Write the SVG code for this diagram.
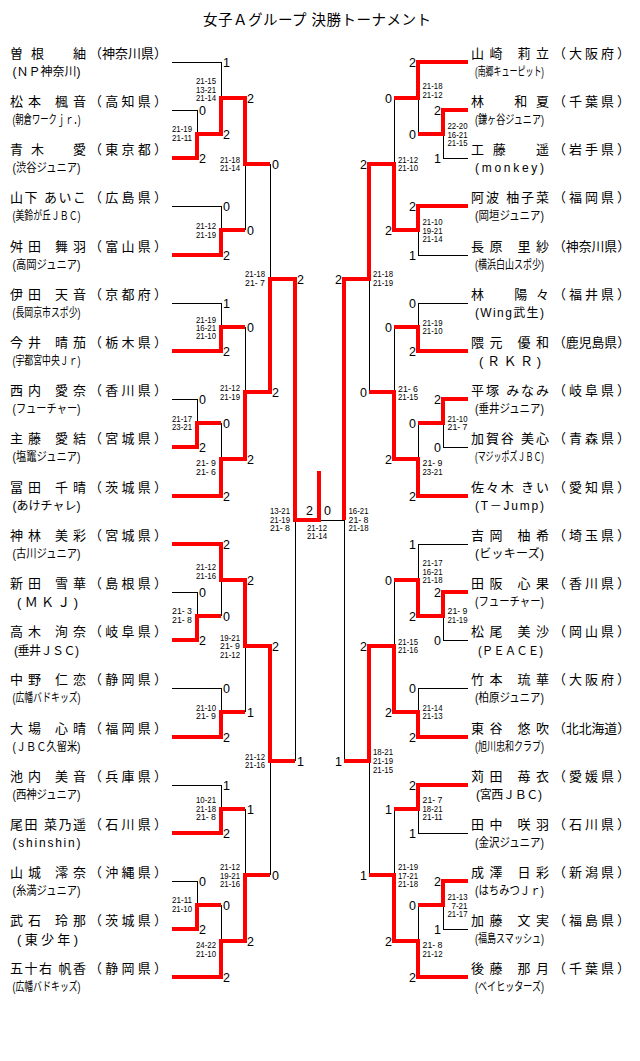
<svg xmlns="http://www.w3.org/2000/svg" width="640" height="1061" viewBox="0 0 640 1061">
<style>
text{font-family:"Liberation Sans","Noto Sans CJK JP",sans-serif;fill:#000}
.t{font-size:14.5px}
.n{font-size:13px}
.a{font-size:12px}
.b{font-size:13px}
.s{font-family:"Liberation Sans",sans-serif;font-size:9px}
.g{font-family:"Liberation Sans",sans-serif;font-size:12.5px}
.e{text-anchor:end}
.k{stroke:#000;stroke-width:1;fill:none}
.r{stroke:#f00;stroke-width:4;fill:none;stroke-linejoin:miter}
</style>
<rect width="640" height="1061" fill="#fff"/>
<g id="title"><text class="t" x="203" y="24.5" textLength="228" lengthAdjust="spacing">女子Ａグループ 決勝トーナメント</text></g>

<g id="L00"><text class="n" x="10" y="57.5" textLength="76" lengthAdjust="spacing">曽根　紬</text><text class="n" x="89" y="57.5" textLength="78" lengthAdjust="spacing">（神奈川県）</text><text class="a" x="12.5" y="76" textLength="68" lengthAdjust="spacing">(ＮＰ神奈川)</text></g>
<g id="L01"><text class="n" x="10" y="105.5" textLength="76" lengthAdjust="spacing">松本 楓音</text><text class="n" x="89" y="105.5" textLength="78" lengthAdjust="spacing">（高知県）</text><text class="a" x="12.5" y="124" textLength="68" lengthAdjust="spacingAndGlyphs">(朝倉ワークｊｒ．)</text></g>
<g id="L02"><text class="n" x="10" y="153.5" textLength="76" lengthAdjust="spacing">青木　愛</text><text class="n" x="89" y="153.5" textLength="78" lengthAdjust="spacing">（東京都）</text><text class="a" x="12.5" y="172" textLength="68" lengthAdjust="spacingAndGlyphs">(渋谷ジュニア)</text></g>
<g id="L03"><text class="n" x="10" y="201.5" textLength="76" lengthAdjust="spacing">山下 あいこ</text><text class="n" x="89" y="201.5" textLength="78" lengthAdjust="spacing">（広島県）</text><text class="a" x="12.5" y="220" textLength="68" lengthAdjust="spacingAndGlyphs">(美鈴が丘ＪＢＣ)</text></g>
<g id="L04"><text class="n" x="10" y="250.5" textLength="76" lengthAdjust="spacing">舛田 舞羽</text><text class="n" x="89" y="250.5" textLength="78" lengthAdjust="spacing">（富山県）</text><text class="a" x="12.5" y="269" textLength="68" lengthAdjust="spacingAndGlyphs">(高岡ジュニア)</text></g>
<g id="L05"><text class="n" x="10" y="298.5" textLength="76" lengthAdjust="spacing">伊田 天音</text><text class="n" x="89" y="298.5" textLength="78" lengthAdjust="spacing">（京都府）</text><text class="a" x="12.5" y="317" textLength="68" lengthAdjust="spacingAndGlyphs">(長岡京市スポ少)</text></g>
<g id="L06"><text class="n" x="10" y="346.5" textLength="76" lengthAdjust="spacing">今井 晴茄</text><text class="n" x="89" y="346.5" textLength="78" lengthAdjust="spacing">（栃木県）</text><text class="a" x="12.5" y="365" textLength="68" lengthAdjust="spacingAndGlyphs">(宇都宮中央Ｊｒ)</text></g>
<g id="L07"><text class="n" x="10" y="394.5" textLength="76" lengthAdjust="spacing">西内 愛奈</text><text class="n" x="89" y="394.5" textLength="78" lengthAdjust="spacing">（香川県）</text><text class="a" x="12.5" y="413" textLength="68" lengthAdjust="spacingAndGlyphs">(フューチャー)</text></g>
<g id="L08"><text class="n" x="10" y="442.5" textLength="76" lengthAdjust="spacing">主藤 愛結</text><text class="n" x="89" y="442.5" textLength="78" lengthAdjust="spacing">（宮城県）</text><text class="a" x="12.5" y="461" textLength="68" lengthAdjust="spacingAndGlyphs">(塩竈ジュニア)</text></g>
<g id="L09"><text class="n" x="10" y="491.5" textLength="76" lengthAdjust="spacing">冨田 千晴</text><text class="n" x="89" y="491.5" textLength="78" lengthAdjust="spacing">（茨城県）</text><text class="a" x="12.5" y="510" textLength="68" lengthAdjust="spacing">(あけチャレ)</text></g>
<g id="L10"><text class="n" x="10" y="539.5" textLength="76" lengthAdjust="spacing">神林 美彩</text><text class="n" x="89" y="539.5" textLength="78" lengthAdjust="spacing">（宮城県）</text><text class="a" x="12.5" y="558" textLength="68" lengthAdjust="spacingAndGlyphs">(古川ジュニア)</text></g>
<g id="L11"><text class="n" x="10" y="587.5" textLength="76" lengthAdjust="spacing">新田 雪華</text><text class="n" x="89" y="587.5" textLength="78" lengthAdjust="spacing">（島根県）</text><text class="b" x="17" y="606.5" textLength="61" lengthAdjust="spacing">(ＭＫＪ)</text></g>
<g id="L12"><text class="n" x="10" y="635.5" textLength="76" lengthAdjust="spacing">高木 洵奈</text><text class="n" x="89" y="635.5" textLength="78" lengthAdjust="spacing">（岐阜県）</text><text class="a" x="14" y="654.5" textLength="65" lengthAdjust="spacing">(垂井ＪＳＣ)</text></g>
<g id="L13"><text class="n" x="10" y="683.5" textLength="76" lengthAdjust="spacing">中野 仁恋</text><text class="n" x="89" y="683.5" textLength="78" lengthAdjust="spacing">（静岡県）</text><text class="a" x="12.5" y="702" textLength="68" lengthAdjust="spacingAndGlyphs">(広幡バドキッズ)</text></g>
<g id="L14"><text class="n" x="10" y="732.5" textLength="76" lengthAdjust="spacing">大場 心晴</text><text class="n" x="89" y="732.5" textLength="78" lengthAdjust="spacing">（福岡県）</text><text class="a" x="12.5" y="751" textLength="68" lengthAdjust="spacingAndGlyphs">(ＪＢＣ久留米)</text></g>
<g id="L15"><text class="n" x="10" y="780.5" textLength="76" lengthAdjust="spacing">池内 美音</text><text class="n" x="89" y="780.5" textLength="78" lengthAdjust="spacing">（兵庫県）</text><text class="a" x="12.5" y="799" textLength="68" lengthAdjust="spacingAndGlyphs">(西神ジュニア)</text></g>
<g id="L16"><text class="n" x="10" y="828.5" textLength="76" lengthAdjust="spacing">尾田 菜乃遥</text><text class="n" x="89" y="828.5" textLength="78" lengthAdjust="spacing">（石川県）</text><text class="a" x="12.5" y="847" textLength="68" lengthAdjust="spacing">(shinshin)</text></g>
<g id="L17"><text class="n" x="10" y="876.5" textLength="76" lengthAdjust="spacing">山城 澪奈</text><text class="n" x="89" y="876.5" textLength="78" lengthAdjust="spacing">（沖縄県）</text><text class="a" x="12.5" y="895" textLength="68" lengthAdjust="spacingAndGlyphs">(糸満ジュニア)</text></g>
<g id="L18"><text class="n" x="10" y="924.5" textLength="76" lengthAdjust="spacing">武石 玲那</text><text class="n" x="89" y="924.5" textLength="78" lengthAdjust="spacing">（茨城県）</text><text class="b" x="17" y="943.5" textLength="61" lengthAdjust="spacing">(東少年)</text></g>
<g id="L19"><text class="n" x="10" y="972.5" textLength="76" lengthAdjust="spacing">五十右 帆香</text><text class="n" x="89" y="972.5" textLength="78" lengthAdjust="spacing">（静岡県）</text><text class="a" x="12.5" y="991" textLength="68" lengthAdjust="spacingAndGlyphs">(広幡バドキッズ)</text></g>

<g id="R00"><text class="n" x="471" y="57.5" textLength="78" lengthAdjust="spacing">山崎 莉立</text><text class="n" x="553" y="57.5" textLength="77" lengthAdjust="spacing">（大阪府）</text><text class="a" x="475" y="76" textLength="69" lengthAdjust="spacingAndGlyphs">(南郷キューピット)</text></g>
<g id="R01"><text class="n" x="471" y="105.5" textLength="78" lengthAdjust="spacing">林　和夏</text><text class="n" x="553" y="105.5" textLength="77" lengthAdjust="spacing">（千葉県）</text><text class="a" x="475" y="124" textLength="69" lengthAdjust="spacingAndGlyphs">(鎌ヶ谷ジュニア)</text></g>
<g id="R02"><text class="n" x="471" y="153.5" textLength="78" lengthAdjust="spacing">工藤　遥</text><text class="n" x="553" y="153.5" textLength="77" lengthAdjust="spacing">（岩手県）</text><text class="a" x="475" y="172" textLength="69" lengthAdjust="spacing">(monkey)</text></g>
<g id="R03"><text class="n" x="471" y="201.5" textLength="78" lengthAdjust="spacing">阿波 柚子菜</text><text class="n" x="553" y="201.5" textLength="77" lengthAdjust="spacing">（福岡県）</text><text class="a" x="475" y="220" textLength="69" lengthAdjust="spacingAndGlyphs">(岡垣ジュニア)</text></g>
<g id="R04"><text class="n" x="471" y="250.5" textLength="78" lengthAdjust="spacing">長原 里紗</text><text class="n" x="553" y="250.5" textLength="77" lengthAdjust="spacingAndGlyphs">（神奈川県）</text><text class="a" x="475" y="269" textLength="69" lengthAdjust="spacingAndGlyphs">(横浜白山スポ少)</text></g>
<g id="R05"><text class="n" x="471" y="298.5" textLength="78" lengthAdjust="spacing">林　陽々</text><text class="n" x="553" y="298.5" textLength="77" lengthAdjust="spacing">（福井県）</text><text class="a" x="475" y="317" textLength="69" lengthAdjust="spacing">(Wing武生)</text></g>
<g id="R06"><text class="n" x="471" y="346.5" textLength="78" lengthAdjust="spacing">隈元 優和</text><text class="n" x="553" y="346.5" textLength="77" lengthAdjust="spacingAndGlyphs">（鹿児島県）</text><text class="b" x="479" y="365.5" textLength="62" lengthAdjust="spacing">(ＲＫＲ)</text></g>
<g id="R07"><text class="n" x="471" y="394.5" textLength="78" lengthAdjust="spacing">平塚 みなみ</text><text class="n" x="553" y="394.5" textLength="77" lengthAdjust="spacing">（岐阜県）</text><text class="a" x="475" y="413" textLength="69" lengthAdjust="spacingAndGlyphs">(垂井ジュニア)</text></g>
<g id="R08"><text class="n" x="471" y="442.5" textLength="78" lengthAdjust="spacing">加賀谷 美心</text><text class="n" x="553" y="442.5" textLength="77" lengthAdjust="spacing">（青森県）</text><text class="a" x="475" y="461" textLength="69" lengthAdjust="spacingAndGlyphs">(マジッポズＪＢＣ)</text></g>
<g id="R09"><text class="n" x="471" y="491.5" textLength="78" lengthAdjust="spacing">佐々木 きい</text><text class="n" x="553" y="491.5" textLength="77" lengthAdjust="spacing">（愛知県）</text><text class="a" x="475" y="510" textLength="69" lengthAdjust="spacing">(T－Jump)</text></g>
<g id="R10"><text class="n" x="471" y="539.5" textLength="78" lengthAdjust="spacing">吉岡 柚希</text><text class="n" x="553" y="539.5" textLength="77" lengthAdjust="spacing">（埼玉県）</text><text class="a" x="475" y="558" textLength="69" lengthAdjust="spacing">(ビッキーズ)</text></g>
<g id="R11"><text class="n" x="471" y="587.5" textLength="78" lengthAdjust="spacing">田阪 心果</text><text class="n" x="553" y="587.5" textLength="77" lengthAdjust="spacing">（香川県）</text><text class="a" x="475" y="606" textLength="69" lengthAdjust="spacingAndGlyphs">(フューチャー)</text></g>
<g id="R12"><text class="n" x="471" y="635.5" textLength="78" lengthAdjust="spacing">松尾 美沙</text><text class="n" x="553" y="635.5" textLength="77" lengthAdjust="spacing">（岡山県）</text><text class="a" x="478" y="654.5" textLength="65" lengthAdjust="spacingAndGlyphs">(ＰＥＡＣＥ)</text></g>
<g id="R13"><text class="n" x="471" y="683.5" textLength="78" lengthAdjust="spacing">竹本 琉華</text><text class="n" x="553" y="683.5" textLength="77" lengthAdjust="spacing">（大阪府）</text><text class="a" x="475" y="702" textLength="69" lengthAdjust="spacingAndGlyphs">(柏原ジュニア)</text></g>
<g id="R14"><text class="n" x="471" y="732.5" textLength="78" lengthAdjust="spacing">東谷 悠吹</text><text class="n" x="553" y="732.5" textLength="77" lengthAdjust="spacingAndGlyphs">（北北海道）</text><text class="a" x="475" y="751" textLength="69" lengthAdjust="spacingAndGlyphs">(旭川忠和クラブ)</text></g>
<g id="R15"><text class="n" x="471" y="780.5" textLength="78" lengthAdjust="spacing">苅田 苺衣</text><text class="n" x="553" y="780.5" textLength="77" lengthAdjust="spacing">（愛媛県）</text><text class="a" x="476" y="799" textLength="66" lengthAdjust="spacing">(宮西ＪＢＣ)</text></g>
<g id="R16"><text class="n" x="471" y="828.5" textLength="78" lengthAdjust="spacing">田中 咲羽</text><text class="n" x="553" y="828.5" textLength="77" lengthAdjust="spacing">（石川県）</text><text class="a" x="475" y="847" textLength="69" lengthAdjust="spacingAndGlyphs">(金沢ジュニア)</text></g>
<g id="R17"><text class="n" x="471" y="876.5" textLength="78" lengthAdjust="spacing">成澤 日彩</text><text class="n" x="553" y="876.5" textLength="77" lengthAdjust="spacing">（新潟県）</text><text class="a" x="475" y="895" textLength="69" lengthAdjust="spacingAndGlyphs">(はちみつＪｒ)</text></g>
<g id="R18"><text class="n" x="471" y="924.5" textLength="78" lengthAdjust="spacing">加藤 文実</text><text class="n" x="553" y="924.5" textLength="77" lengthAdjust="spacing">（福島県）</text><text class="a" x="475" y="943" textLength="69" lengthAdjust="spacingAndGlyphs">(福島スマッシュ)</text></g>
<g id="R19"><text class="n" x="471" y="972.5" textLength="78" lengthAdjust="spacing">後藤 那月</text><text class="n" x="553" y="972.5" textLength="77" lengthAdjust="spacing">（千葉県）</text><text class="a" x="475" y="991" textLength="69" lengthAdjust="spacingAndGlyphs">(ベイヒッターズ)</text></g>

<g id="connectors">
<path class="k" d="M172,62.5H222 M172,110.5H198 M172,206.5H222 M172,303.5H222 M172,399.5H198 M172,592.5H198 M172,688.5H222 M172,785.5H222 M172,881.5H198"/>
<path class="k" d="M197.5,110V134 M221.5,62V98 M221.5,206V230 M245.5,230V164 M221.5,303V327 M197.5,399V423 M221.5,423V459 M245.5,327V392 M270.5,164V279 M197.5,592V616 M221.5,616V580 M221.5,688V712 M245.5,712V646 M221.5,785V809 M197.5,881V905 M221.5,905V941 M245.5,809V875 M270.5,875V761 M295.5,761V520"/>
<path class="k" d="M319,520.5H345 M344.5,761V520"/>
<path class="k" d="M443,158.5H468 M418,255.5H468 M418,303.5H468 M443,447.5H468 M418,544.5H468 M443,640.5H468 M418,688.5H468 M418,833.5H468 M443,929.5H468"/>
<path class="k" d="M443.5,158V134 M418.5,134V98 M418.5,255V230 M394.5,98V164 M418.5,303V327 M443.5,447V423 M418.5,423V459 M394.5,327V392 M369.5,392V279 M443.5,640V616 M418.5,544V580 M418.5,688V712 M394.5,580V646 M418.5,833V809 M443.5,929V905 M418.5,905V941 M394.5,809V875 M369.5,875V761"/>
<path class="r" d="M172,158H197V134H221"/>
<path class="r" d="M197,134H221V98H245"/>
<path class="r" d="M172,255H221V230H245"/>
<path class="r" d="M221,98H245V164H270"/>
<path class="r" d="M172,351H221V327H245"/>
<path class="r" d="M172,447H197V423H221"/>
<path class="r" d="M172,496H221V459H245"/>
<path class="r" d="M221,459H245V392H270"/>
<path class="r" d="M245,392H270V279H295"/>
<path class="r" d="M172,640H197V616H221"/>
<path class="r" d="M172,544H221V580H245"/>
<path class="r" d="M172,737H221V712H245"/>
<path class="r" d="M221,580H245V646H270"/>
<path class="r" d="M172,833H221V809H245"/>
<path class="r" d="M172,929H197V905H221"/>
<path class="r" d="M172,977H221V941H245"/>
<path class="r" d="M221,941H245V875H270"/>
<path class="r" d="M245,646H270V761H295"/>
<path class="r" d="M270,279H295V520H319V471"/>
<path class="r" d="M468,110H443V134H418"/>
<path class="r" d="M468,62H418V98H394"/>
<path class="r" d="M468,206H418V230H394"/>
<path class="r" d="M418,230H394V164H369"/>
<path class="r" d="M468,351H418V327H394"/>
<path class="r" d="M468,399H443V423H418"/>
<path class="r" d="M468,496H418V459H394"/>
<path class="r" d="M418,459H394V392H369"/>
<path class="r" d="M394,164H369V279H344"/>
<path class="r" d="M468,592H443V616H418"/>
<path class="r" d="M443,616H418V580H394"/>
<path class="r" d="M468,737H418V712H394"/>
<path class="r" d="M418,712H394V646H369"/>
<path class="r" d="M468,785H418V809H394"/>
<path class="r" d="M468,881H443V905H418"/>
<path class="r" d="M468,977H418V941H394"/>
<path class="r" d="M418,941H394V875H369"/>
<path class="r" d="M394,646H369V761H344"/>
<path class="r" d="M369,279H344V520"/>
</g>

<g id="games">
<text class="g" x="199" y="114.5">0</text><text class="g" x="199" y="162.5">2</text>
<text class="g" x="223" y="66.5">1</text><text class="g" x="223" y="138.5">2</text>
<text class="g" x="223" y="210.5">0</text><text class="g" x="223" y="259.5">2</text>
<text class="g" x="247" y="102.5">2</text><text class="g" x="247" y="234.5">0</text>
<text class="g" x="223" y="307.5">1</text><text class="g" x="223" y="355.5">2</text>
<text class="g" x="199" y="403.5">0</text><text class="g" x="199" y="451.5">2</text>
<text class="g" x="223" y="427.5">0</text><text class="g" x="223" y="500.5">2</text>
<text class="g" x="247" y="331.5">0</text><text class="g" x="247" y="463.5">2</text>
<text class="g" x="272" y="168.5">0</text><text class="g" x="272" y="396.5">2</text>
<text class="g" x="199" y="596.5">0</text><text class="g" x="199" y="644.5">2</text>
<text class="g" x="223" y="548.5">2</text><text class="g" x="223" y="620.5">0</text>
<text class="g" x="223" y="692.5">0</text><text class="g" x="223" y="741.5">2</text>
<text class="g" x="247" y="584.5">2</text><text class="g" x="247" y="716.5">1</text>
<text class="g" x="223" y="789.5">1</text><text class="g" x="223" y="837.5">2</text>
<text class="g" x="199" y="885.5">0</text><text class="g" x="199" y="933.5">2</text>
<text class="g" x="223" y="909.5">0</text><text class="g" x="223" y="981.5">2</text>
<text class="g" x="247" y="813.5">1</text><text class="g" x="247" y="945.5">2</text>
<text class="g" x="272" y="650.5">2</text><text class="g" x="272" y="879.5">0</text>
<text class="g" x="297" y="283.5">2</text><text class="g" x="297" y="765.5">1</text>
<text class="g" x="306" y="515">2</text><text class="g" x="324" y="515">0</text>
<text class="g e" x="441" y="114.5">2</text><text class="g e" x="441" y="162.5">1</text>
<text class="g e" x="416" y="66.5">2</text><text class="g e" x="416" y="138.5">0</text>
<text class="g e" x="416" y="210.5">2</text><text class="g e" x="416" y="259.5">1</text>
<text class="g e" x="392" y="102.5">0</text><text class="g e" x="392" y="234.5">2</text>
<text class="g e" x="416" y="307.5">0</text><text class="g e" x="416" y="355.5">2</text>
<text class="g e" x="441" y="403.5">2</text><text class="g e" x="441" y="451.5">0</text>
<text class="g e" x="416" y="427.5">0</text><text class="g e" x="416" y="500.5">2</text>
<text class="g e" x="392" y="331.5">0</text><text class="g e" x="392" y="463.5">2</text>
<text class="g e" x="367" y="168.5">2</text><text class="g e" x="367" y="396.5">0</text>
<text class="g e" x="441" y="596.5">2</text><text class="g e" x="441" y="644.5">0</text>
<text class="g e" x="416" y="548.5">1</text><text class="g e" x="416" y="620.5">2</text>
<text class="g e" x="416" y="692.5">0</text><text class="g e" x="416" y="741.5">2</text>
<text class="g e" x="392" y="584.5">0</text><text class="g e" x="392" y="716.5">2</text>
<text class="g e" x="416" y="789.5">2</text><text class="g e" x="416" y="837.5">1</text>
<text class="g e" x="441" y="885.5">2</text><text class="g e" x="441" y="933.5">1</text>
<text class="g e" x="416" y="909.5">0</text><text class="g e" x="416" y="981.5">2</text>
<text class="g e" x="392" y="813.5">1</text><text class="g e" x="392" y="945.5">2</text>
<text class="g e" x="367" y="650.5">2</text><text class="g e" x="367" y="879.5">1</text>
<text class="g e" x="342" y="283.5">2</text><text class="g e" x="342" y="765.5">1</text>
</g>

<g id="scores">
<text class="s" x="172" y="132" textLength="20" lengthAdjust="spacingAndGlyphs">21-19</text><text class="s" x="172" y="141" textLength="20" lengthAdjust="spacingAndGlyphs">21-11</text>
<text class="s" x="196" y="84" textLength="20" lengthAdjust="spacingAndGlyphs">21-15</text><text class="s" x="196" y="92.5" textLength="20" lengthAdjust="spacingAndGlyphs">13-21</text><text class="s" x="196" y="101" textLength="20" lengthAdjust="spacingAndGlyphs">21-14</text>
<text class="s" x="196" y="228.5" textLength="20" lengthAdjust="spacingAndGlyphs">21-12</text><text class="s" x="196" y="237.5" textLength="20" lengthAdjust="spacingAndGlyphs">21-19</text>
<text class="s" x="220" y="162.5" textLength="20" lengthAdjust="spacingAndGlyphs">21-18</text><text class="s" x="220" y="171" textLength="20" lengthAdjust="spacingAndGlyphs">21-14</text>
<text class="s" x="196" y="322.5" textLength="20" lengthAdjust="spacingAndGlyphs">21-19</text><text class="s" x="196" y="331" textLength="20" lengthAdjust="spacingAndGlyphs">16-21</text><text class="s" x="196" y="339" textLength="20" lengthAdjust="spacingAndGlyphs">21-10</text>
<text class="s" x="172" y="421.5" textLength="20" lengthAdjust="spacingAndGlyphs">21-17</text><text class="s" x="172" y="430" textLength="20" lengthAdjust="spacingAndGlyphs">23-21</text>
<text class="s" x="196" y="466" textLength="20" lengthAdjust="spacingAndGlyphs">21- 9</text><text class="s" x="196" y="475" textLength="20" lengthAdjust="spacingAndGlyphs">21- 6</text>
<text class="s" x="220" y="391" textLength="20" lengthAdjust="spacingAndGlyphs">21-12</text><text class="s" x="220" y="400" textLength="20" lengthAdjust="spacingAndGlyphs">21-19</text>
<text class="s" x="245" y="276.5" textLength="20" lengthAdjust="spacingAndGlyphs">21-18</text><text class="s" x="245" y="286" textLength="20" lengthAdjust="spacingAndGlyphs">21- 7</text>
<text class="s" x="172" y="614" textLength="20" lengthAdjust="spacingAndGlyphs">21- 3</text><text class="s" x="172" y="623" textLength="20" lengthAdjust="spacingAndGlyphs">21- 8</text>
<text class="s" x="196" y="570" textLength="20" lengthAdjust="spacingAndGlyphs">21-12</text><text class="s" x="196" y="578.5" textLength="20" lengthAdjust="spacingAndGlyphs">21-16</text>
<text class="s" x="196" y="710.5" textLength="20" lengthAdjust="spacingAndGlyphs">21-10</text><text class="s" x="196" y="719" textLength="20" lengthAdjust="spacingAndGlyphs">21- 9</text>
<text class="s" x="220" y="640.5" textLength="20" lengthAdjust="spacingAndGlyphs">19-21</text><text class="s" x="220" y="649" textLength="20" lengthAdjust="spacingAndGlyphs">21- 9</text><text class="s" x="220" y="657.5" textLength="20" lengthAdjust="spacingAndGlyphs">21-12</text>
<text class="s" x="245" y="759.5" textLength="20" lengthAdjust="spacingAndGlyphs">21-12</text><text class="s" x="245" y="767.5" textLength="20" lengthAdjust="spacingAndGlyphs">21-16</text>
<text class="s" x="196" y="803" textLength="20" lengthAdjust="spacingAndGlyphs">10-21</text><text class="s" x="196" y="811.5" textLength="20" lengthAdjust="spacingAndGlyphs">21-18</text><text class="s" x="196" y="820" textLength="20" lengthAdjust="spacingAndGlyphs">21- 8</text>
<text class="s" x="172" y="903" textLength="20" lengthAdjust="spacingAndGlyphs">21-11</text><text class="s" x="172" y="911.5" textLength="20" lengthAdjust="spacingAndGlyphs">21-10</text>
<text class="s" x="196" y="947.5" textLength="20" lengthAdjust="spacingAndGlyphs">24-22</text><text class="s" x="196" y="956.5" textLength="20" lengthAdjust="spacingAndGlyphs">21-10</text>
<text class="s" x="220" y="870" textLength="20" lengthAdjust="spacingAndGlyphs">21-12</text><text class="s" x="220" y="878.5" textLength="20" lengthAdjust="spacingAndGlyphs">19-21</text><text class="s" x="220" y="886.5" textLength="20" lengthAdjust="spacingAndGlyphs">21-16</text>
<text class="s" x="270" y="514" textLength="20" lengthAdjust="spacingAndGlyphs">13-21</text><text class="s" x="270" y="522.5" textLength="20" lengthAdjust="spacingAndGlyphs">21-19</text><text class="s" x="270" y="531" textLength="20" lengthAdjust="spacingAndGlyphs">21- 8</text>
<text class="s" x="307" y="530.5" textLength="20" lengthAdjust="spacingAndGlyphs">21-12</text><text class="s" x="307" y="539" textLength="20" lengthAdjust="spacingAndGlyphs">21-14</text>
<text class="s" x="348.5" y="514" textLength="20" lengthAdjust="spacingAndGlyphs">16-21</text><text class="s" x="348.5" y="522.5" textLength="20" lengthAdjust="spacingAndGlyphs">21- 8</text><text class="s" x="348.5" y="531" textLength="20" lengthAdjust="spacingAndGlyphs">21-18</text>
<text class="s" x="447.5" y="129" textLength="20" lengthAdjust="spacingAndGlyphs">22-20</text><text class="s" x="447.5" y="137.5" textLength="20" lengthAdjust="spacingAndGlyphs">16-21</text><text class="s" x="447.5" y="145.5" textLength="20" lengthAdjust="spacingAndGlyphs">21-15</text>
<text class="s" x="422.5" y="89" textLength="20" lengthAdjust="spacingAndGlyphs">21-18</text><text class="s" x="422.5" y="97.5" textLength="20" lengthAdjust="spacingAndGlyphs">21-12</text>
<text class="s" x="422.5" y="225" textLength="20" lengthAdjust="spacingAndGlyphs">21-10</text><text class="s" x="422.5" y="233.5" textLength="20" lengthAdjust="spacingAndGlyphs">19-21</text><text class="s" x="422.5" y="242" textLength="20" lengthAdjust="spacingAndGlyphs">21-14</text>
<text class="s" x="398" y="162.5" textLength="20" lengthAdjust="spacingAndGlyphs">21-12</text><text class="s" x="398" y="171" textLength="20" lengthAdjust="spacingAndGlyphs">21-10</text>
<text class="s" x="422.5" y="326" textLength="20" lengthAdjust="spacingAndGlyphs">21-19</text><text class="s" x="422.5" y="334" textLength="20" lengthAdjust="spacingAndGlyphs">21-10</text>
<text class="s" x="447.5" y="421.5" textLength="20" lengthAdjust="spacingAndGlyphs">21-10</text><text class="s" x="447.5" y="430" textLength="20" lengthAdjust="spacingAndGlyphs">21- 7</text>
<text class="s" x="422.5" y="466" textLength="20" lengthAdjust="spacingAndGlyphs">21- 9</text><text class="s" x="422.5" y="475" textLength="20" lengthAdjust="spacingAndGlyphs">23-21</text>
<text class="s" x="398" y="391.5" textLength="20" lengthAdjust="spacingAndGlyphs">21- 6</text><text class="s" x="398" y="400" textLength="20" lengthAdjust="spacingAndGlyphs">21-15</text>
<text class="s" x="373" y="276.5" textLength="20" lengthAdjust="spacingAndGlyphs">21-18</text><text class="s" x="373" y="286" textLength="20" lengthAdjust="spacingAndGlyphs">21-19</text>
<text class="s" x="447.5" y="614" textLength="20" lengthAdjust="spacingAndGlyphs">21- 9</text><text class="s" x="447.5" y="623" textLength="20" lengthAdjust="spacingAndGlyphs">21-19</text>
<text class="s" x="422.5" y="565.5" textLength="20" lengthAdjust="spacingAndGlyphs">21-17</text><text class="s" x="422.5" y="575" textLength="20" lengthAdjust="spacingAndGlyphs">16-21</text><text class="s" x="422.5" y="583" textLength="20" lengthAdjust="spacingAndGlyphs">21-18</text>
<text class="s" x="422.5" y="710.5" textLength="20" lengthAdjust="spacingAndGlyphs">21-14</text><text class="s" x="422.5" y="719" textLength="20" lengthAdjust="spacingAndGlyphs">21-13</text>
<text class="s" x="398" y="645" textLength="20" lengthAdjust="spacingAndGlyphs">21-15</text><text class="s" x="398" y="653" textLength="20" lengthAdjust="spacingAndGlyphs">21-16</text>
<text class="s" x="373" y="755" textLength="20" lengthAdjust="spacingAndGlyphs">18-21</text><text class="s" x="373" y="764" textLength="20" lengthAdjust="spacingAndGlyphs">21-19</text><text class="s" x="373" y="772.5" textLength="20" lengthAdjust="spacingAndGlyphs">21-15</text>
<text class="s" x="422.5" y="803" textLength="20" lengthAdjust="spacingAndGlyphs">21- 7</text><text class="s" x="422.5" y="811.5" textLength="20" lengthAdjust="spacingAndGlyphs">18-21</text><text class="s" x="422.5" y="820" textLength="20" lengthAdjust="spacingAndGlyphs">21-11</text>
<text class="s" x="447.5" y="900" textLength="20" lengthAdjust="spacingAndGlyphs">21-13</text><text class="s" x="451.5" y="908.5" textLength="16" lengthAdjust="spacingAndGlyphs">7-21</text><text class="s" x="447.5" y="916.5" textLength="20" lengthAdjust="spacingAndGlyphs">21-17</text>
<text class="s" x="422.5" y="947.5" textLength="20" lengthAdjust="spacingAndGlyphs">21- 8</text><text class="s" x="422.5" y="956.5" textLength="20" lengthAdjust="spacingAndGlyphs">21-12</text>
<text class="s" x="398" y="870" textLength="20" lengthAdjust="spacingAndGlyphs">21-19</text><text class="s" x="398" y="878.5" textLength="20" lengthAdjust="spacingAndGlyphs">17-21</text><text class="s" x="398" y="886.5" textLength="20" lengthAdjust="spacingAndGlyphs">21-18</text>
</g>
</svg>
